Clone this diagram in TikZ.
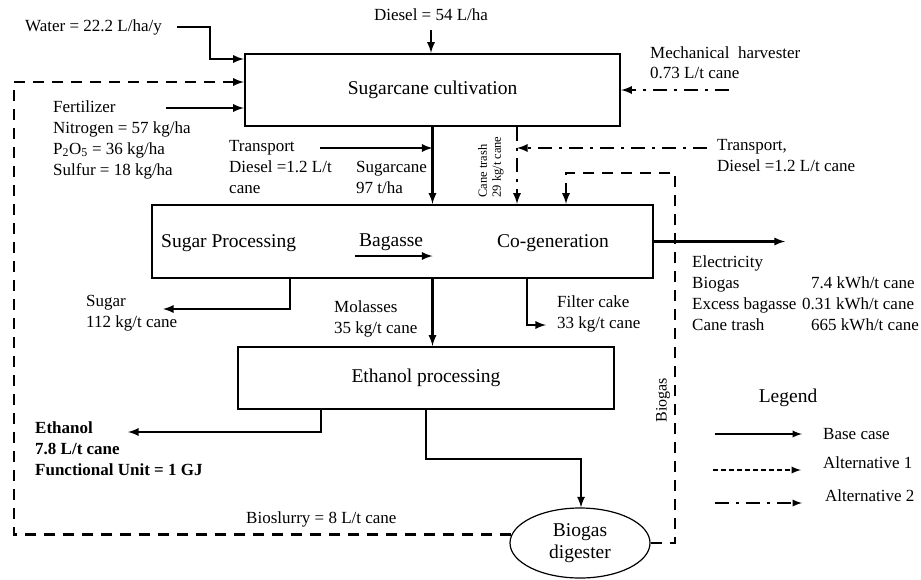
\documentclass[tikz,border=0pt]{standalone}
\usepackage{fontspec}
\setmainfont{Liberation Serif}
\usetikzlibrary{calc,shapes.geometric,arrows}

\begin{document}
\begin{tikzpicture}[x=1pt,y=-1pt,
    box/.style={draw,line width=2.4pt,inner sep=0pt,font=\fontsize{19.5}{22}\selectfont},
    lab/.style={inner sep=0pt,align=left,font=\fontsize{17}{21}\selectfont},
    small/.style={inner sep=0pt,align=left,font=\fontsize{12.5}{14}\selectfont},
    base/.style={line width=2.6pt,-latex},
    altone/.style={line width=2.6pt,dash pattern=on 11pt off 8pt,-latex},
    alttwo/.style={line width=2.6pt,dash pattern=on 14pt off 7pt on 3pt off 7pt,-latex}]
    \useasboundingbox (0,0) rectangle (921,579);

    % process boxes
    \node[box,minimum width=375pt,minimum height=72pt] (cult) at (432.5,90) {Sugarcane cultivation};
    \node[box,minimum width=501pt,minimum height=73pt] (proc) at (402.5,241.5) {};
    \node[box,minimum width=376pt,minimum height=62pt] (eth) at (426,378) {Ethanol processing};
    \node[draw,ellipse,line width=1.2pt,minimum width=140pt,minimum height=70pt,align=center,
        font=\fontsize{19.5}{22}\selectfont] (dig) at (580,543) {Biogas\\digester};

    % texts
    \node[lab] (diesel) at (431,15) {Diesel = 54 L/ha};
    \node[lab,anchor=west] (water) at (25,27) {Water = 22.2 L/ha/y};
    \node[lab,anchor=west,font=\fontsize{17}{20}\selectfont] (mechlab) at (650,63) {Mechanical\ \ harvester\\0.73 L/t cane};
    \node[lab,anchor=west] (fertlab) at (53,139.5) {Fertilizer\\Nitrogen = 57 kg/ha\\P\textsubscript{2}O\textsubscript{5} = 36 kg/ha\\Sulfur = 18 kg/ha};
    \node[lab,anchor=west] (trslab) at (229,167) {Transport\\Diesel =1.2 L/t\\cane};
    \node[lab,anchor=west] (canelab) at (356,177.5) {Sugarcane\\97 t/ha};
    \node[small,rotate=90] (trashlab) at (491,167) {Cane trash\\29 kg/t cane};
    \node[lab,anchor=west] (trrlab) at (717,155.5) {Transport,\\Diesel =1.2 L/t cane};
    \node[box,draw=none,anchor=west] (sp) at (160,243) {Sugar Processing};
    \node[box,draw=none,anchor=west] (baglab) at (358,242) {Bagasse};
    \node[box,draw=none] (cogen) at (553,243) {Co-generation};
    \node[lab,anchor=west] (suglab) at (86,313.5) {Sugar\\112 kg/t cane};
    \node[lab,anchor=west] (mollab) at (334,318.5) {Molasses\\35 kg/t cane};
    \node[lab,anchor=west] (fclab) at (557,313.5) {Filter cake\\33 kg/t cane};
    \node[lab,anchor=west] (eleclab) at (692,293.5) {Electricity\\Biogas\\Excess bagasse\\Cane trash};
    \node[lab,anchor=west] (elecval) at (811,303.5) {7.4 kWh/t cane\\\hspace*{-9pt}0.31 kWh/t cane\\665 kWh/t cane};
    \node[lab,anchor=west,font=\fontsize{17}{21}\selectfont\bfseries] (ethlab) at (35,449) {Ethanol\\7.8 L/t cane\\Functional Unit = 1 GJ};
    \node[lab,anchor=west] (slurry) at (246,519) {Bioslurry = 8 L/t cane};
    \node[lab,rotate=90,font=\fontsize{16}{18}\selectfont] (bglab) at (663,400) {Biogas};

    % named points
    \coordinate (wbend) at (210,59);
    \coordinate (fert) at (166,108);
    \coordinate (mech) at (729,90);
    \coordinate (looptl) at (14,82);
    \coordinate (trs) at (320,148);
    \coordinate (trash) at (517,0);
    \coordinate (trr) at (707,148);
    \coordinate (bgr) at (675,173);
    \coordinate (bgl) at (566,173);
    \coordinate (bag) at (355,256);
    \coordinate (elec) at (785,0);
    \coordinate (sugx) at (290,309);
    \coordinate (sug) at (163,309);
    \coordinate (fc) at (527,325);
    \coordinate (fce) at (546,325);
    \coordinate (eo) at (321,432);
    \coordinate (eoe) at (128,432);
    \coordinate (df1) at (426,459);
    \coordinate (df2) at (581,459);

    % inputs to cultivation
    \draw[base,shorten <=9pt] (diesel.south) -- (diesel.south |- cult.north);
    \draw[base] ([xshift=15pt]water.east) -| (wbend) -- (wbend -| cult.west);
    \draw[base] (fert) -- (fert -| cult.west);
    \draw[alttwo] (mech) -- (mech -| cult.east);
    \draw[altone] (dig.173) -| (looptl) -- (looptl -| cult.west);

    % cultivation to processing
    \draw[base] (cult.south) -- (proc.north -| cult.south);
    \draw[base] (trs) -- (trs -| cult.south);
    \draw[alttwo] (trash |- cult.south) -- (trash |- proc.north);
    \draw[alttwo] (trr) -- (trr -| trash);
    \draw[altone] (dig.east) -| (bgr) -- (bgl) -- (bgl |- proc.north);
    \draw[base] (bag) -- (bag -| cult.south);

    % outputs
    \draw[base] (proc.east) -- (proc.east -| elec);
    \draw[base] (sugx |- proc.south) -- (sugx) -- (sug);
    \draw[base] (fc |- proc.south) -- (fc) -- (fce);
    \draw[base] (cult.south |- proc.south) -- (cult.south |- eth.north);
    \draw[base] (eo |- eth.south) -- (eo) -- (eoe);
    \draw[base] (df1 |- eth.south) -- (df1) -- (df2) -- (df2 |- dig.north);

    % legend
    \node[box,draw=none] (legend) at (788,398) {Legend};
    \node[lab,anchor=west] (lgbase) at (823,434) {Base case};
    \node[lab,anchor=west] (lgone) at (823,463) {Alternative 1};
    \node[lab,anchor=west] (lgtwo) at (825,496) {Alternative 2};
    \draw[base,line width=2.2pt] (715,434) -- (802,434);
    \draw[line width=2.2pt,dash pattern=on 5pt off 3pt,-latex] (713,470) -- (801,470);
    \draw[alttwo,line width=2.2pt] (715,503) -- (802,503);
\end{tikzpicture}
\end{document}
